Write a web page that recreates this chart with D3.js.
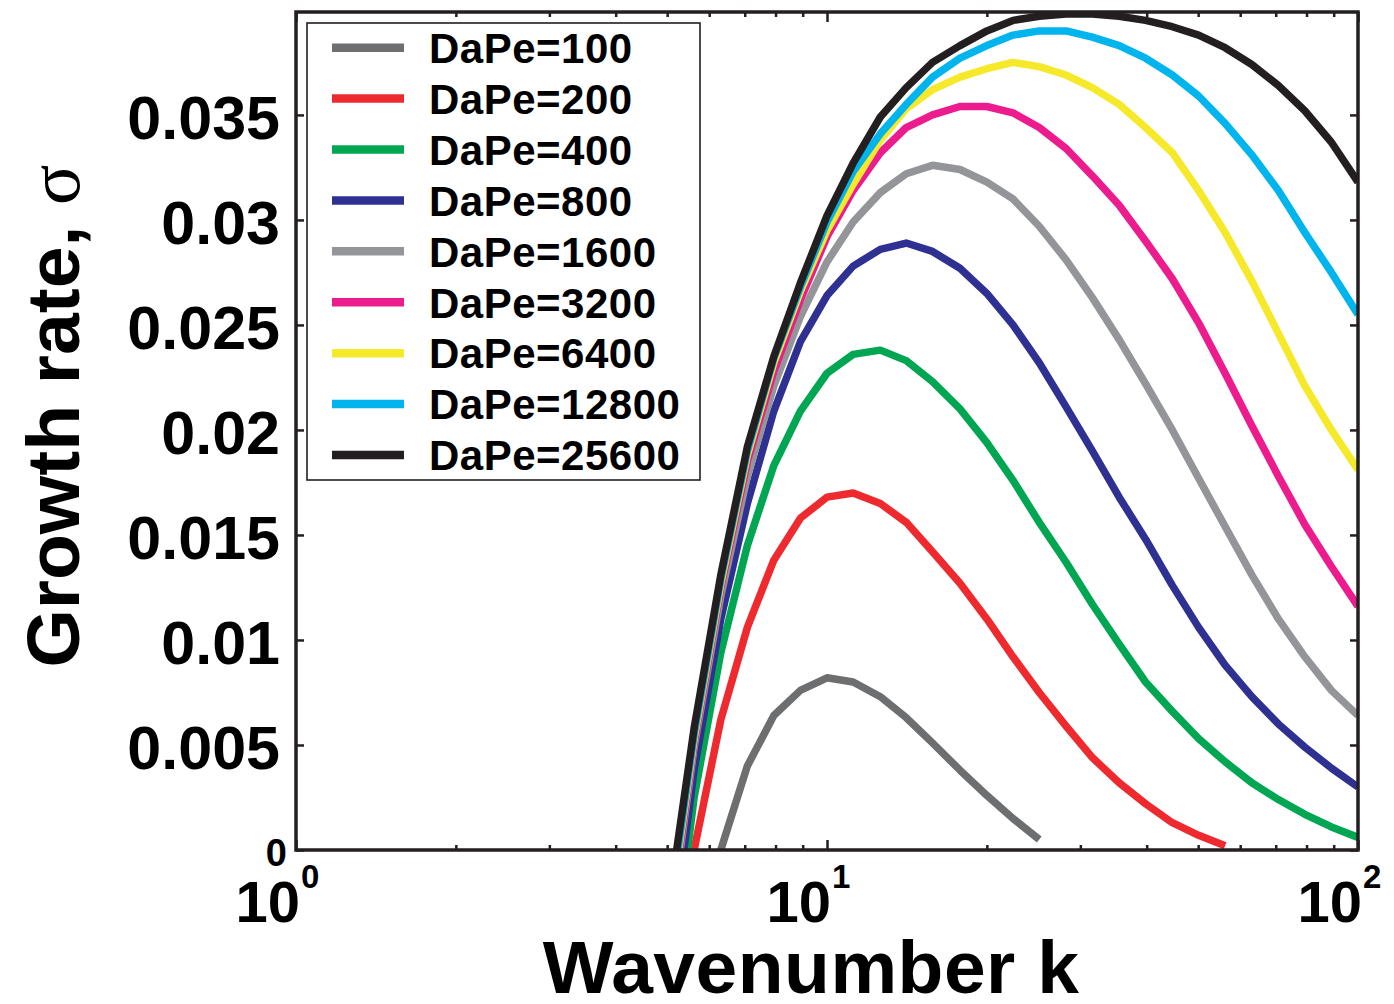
<!DOCTYPE html>
<html>
<head>
<meta charset="utf-8">
<script src="https://cdn.jsdelivr.net/npm/d3@7"></script>
<style>
  html, body { margin: 0; padding: 0; background: #ffffff; }
  svg { display: block; }
</style>
</head>
<body>
<svg id="chart" width="1394" height="1004"></svg>
<script>
// Wavenumbers at which the growth rate was evaluated
const wavenumbers = [5.01, 5.62, 6.31, 7.08, 7.94, 8.91, 10, 11.2, 12.6, 14.1, 15.8, 17.8, 20, 22.4,
                     25.1, 28.2, 31.6, 35.5, 39.8, 44.7, 50.1, 56.2, 63.1, 70.8, 79.4, 89.1, 100];

// Growth rate sigma(k) for each DaPe
const dape100   = [null, null, 0.0000, 0.0040, 0.0064, 0.0076, 0.0082, 0.0080, 0.0073, 0.0063, 0.0051, 0.0038, 0.0026, 0.0015,
                   0.0005, null, null, null, null, null, null, null, null, null, null, null, null];
const dape200   = [null, 0.0000, 0.0062, 0.0106, 0.0138, 0.0158, 0.0168, 0.0170, 0.0165, 0.0156, 0.0142, 0.0127, 0.0110, 0.0092,
                   0.0075, 0.0059, 0.0044, 0.0032, 0.0022, 0.0013, 0.0007, 0.0002, null, null, null, null, null];
const dape400   = [-0.0075, 0.0025, 0.0094, 0.0145, 0.0183, 0.0209, 0.0227, 0.0236, 0.0238, 0.0233, 0.0223, 0.0210, 0.0194, 0.0176,
                   0.0156, 0.0137, 0.0117, 0.0098, 0.0080, 0.0066, 0.0053, 0.0042, 0.0032, 0.0024, 0.0017, 0.0011, 0.0006];
const dape800   = [-0.0060, 0.0038, 0.0110, 0.0165, 0.0209, 0.0242, 0.0264, 0.0278, 0.0286, 0.0289, 0.0285, 0.0277, 0.0265, 0.0250,
                   0.0232, 0.0211, 0.0190, 0.0168, 0.0148, 0.0126, 0.0106, 0.0088, 0.0073, 0.0060, 0.0049, 0.0039, 0.0030];
const dape1600  = [-0.0045, 0.0049, 0.0121, 0.0178, 0.0221, 0.0254, 0.0280, 0.0299, 0.0313, 0.0322, 0.0326, 0.0324, 0.0318, 0.0310,
                   0.0297, 0.0281, 0.0263, 0.0243, 0.0222, 0.0200, 0.0177, 0.0154, 0.0131, 0.0110, 0.0092, 0.0076, 0.0064];
const dape3200  = [-0.0042, 0.0051, 0.0125, 0.0185, 0.0228, 0.0262, 0.0292, 0.0314, 0.0332, 0.0344, 0.0350, 0.0354, 0.0354, 0.0351,
                   0.0344, 0.0334, 0.0321, 0.0307, 0.0290, 0.0272, 0.0251, 0.0227, 0.0202, 0.0178, 0.0155, 0.0135, 0.0116];
const dape6400  = [-0.0038, 0.0053, 0.0127, 0.0188, 0.0232, 0.0266, 0.0295, 0.0317, 0.0338, 0.0353, 0.0362, 0.0368, 0.0372, 0.0375,
                   0.0373, 0.0369, 0.0363, 0.0355, 0.0344, 0.0332, 0.0314, 0.0294, 0.0271, 0.0246, 0.0221, 0.0200, 0.0181];
const dape12800 = [-0.0035, 0.0055, 0.0129, 0.0190, 0.0234, 0.0268, 0.0299, 0.0323, 0.0341, 0.0355, 0.0368, 0.0377, 0.0383, 0.0388,
                   0.0390, 0.0390, 0.0387, 0.0383, 0.0377, 0.0369, 0.0359, 0.0346, 0.0331, 0.0314, 0.0294, 0.0275, 0.0255];
const dape25600 = [-0.0030, 0.0058, 0.0131, 0.0192, 0.0235, 0.0270, 0.0302, 0.0327, 0.0349, 0.0363, 0.0375, 0.0383, 0.0390, 0.0395,
                   0.0397, 0.0398, 0.0398, 0.0397, 0.0395, 0.0392, 0.0388, 0.0382, 0.0374, 0.0364, 0.0352, 0.0337, 0.0318];

const seriesNames  = ["DaPe=100", "DaPe=200", "DaPe=400", "DaPe=800", "DaPe=1600",
                      "DaPe=3200", "DaPe=6400", "DaPe=12800", "DaPe=25600"];
const seriesValues = [dape100, dape200, dape400, dape800, dape1600, dape3200, dape6400, dape12800, dape25600];
const seriesColors = ["#6d6e70", "#ee2a2f", "#00a651", "#2e3192", "#939598",
                      "#ec1c8e", "#f5e92a", "#00b5ee", "#231f20"];

const yTickValues = [0, 0.005, 0.01, 0.015, 0.02, 0.025, 0.03, 0.035];
const yTickLabels = ["0", "0.005", "0.01", "0.015", "0.02", "0.025", "0.03", "0.035"];
const xMajorTicks = [1, 10, 100];
const xMajorExponents = ["0", "1", "2"];
const xMinorTicks = [2, 3, 4, 5, 6, 7, 8, 9, 20, 30, 40, 50, 60, 70, 80, 90];

const FONT = "'Liberation Sans', Arial, Helvetica, sans-serif";
const INK = "#231f20";

const svg = d3.select("#chart");
const plot = { left: 296, right: 1358, top: 12, bottom: 850 };

const x = d3.scaleLog().domain([1, 100]).range([plot.left, plot.right]);
const y = d3.scaleLinear().domain([0, 0.0399]).range([plot.bottom, plot.top]);

svg.append("defs").append("clipPath").attr("id", "plot-clip")
  .append("rect")
  .attr("x", plot.left).attr("y", plot.top)
  .attr("width", plot.right - plot.left).attr("height", plot.bottom - plot.top);

// Curves
const line = d3.line()
  .defined(d => d.s !== null)
  .x(d => x(d.k))
  .y(d => y(d.s));

const curves = svg.append("g").attr("clip-path", "url(#plot-clip)");
seriesValues.forEach((vals, i) => {
  const pts = wavenumbers.map((k, j) => ({ k: k, s: vals[j] }));
  curves.append("path")
    .datum(pts)
    .attr("d", line)
    .attr("fill", "none")
    .attr("stroke", seriesColors[i])
    .attr("stroke-width", 7.5)
    .attr("stroke-linejoin", "round");
});

// Axes: ticks point inward on all four sides
function styleAxis(g) {
  g.select(".domain").remove();
  g.selectAll(".tick line").attr("stroke", INK).attr("stroke-width", 2.5);
}

svg.append("g")
  .attr("transform", `translate(0,${plot.bottom})`)
  .call(d3.axisBottom(x).tickValues(xMinorTicks).tickSizeInner(-5).tickSizeOuter(0).tickFormat(""))
  .call(styleAxis);
svg.append("g")
  .attr("transform", `translate(0,${plot.bottom})`)
  .call(d3.axisBottom(x).tickValues(xMajorTicks).tickSizeInner(-10).tickSizeOuter(0).tickFormat(""))
  .call(styleAxis);
svg.append("g")
  .attr("transform", `translate(0,${plot.top})`)
  .call(d3.axisTop(x).tickValues(xMinorTicks).tickSizeInner(-5).tickSizeOuter(0).tickFormat(""))
  .call(styleAxis);
svg.append("g")
  .attr("transform", `translate(0,${plot.top})`)
  .call(d3.axisTop(x).tickValues(xMajorTicks).tickSizeInner(-10).tickSizeOuter(0).tickFormat(""))
  .call(styleAxis);

const yAxis = svg.append("g")
  .attr("transform", `translate(${plot.left},0)`)
  .call(d3.axisLeft(y).tickValues(yTickValues).tickSizeInner(-8).tickSizeOuter(0)
        .tickPadding(16).tickFormat((d, i) => yTickLabels[i]))
  .call(styleAxis);
yAxis.selectAll(".tick text")
  .attr("font-family", FONT)
  .attr("font-weight", "bold")
  .attr("font-size", 61)
  .attr("fill", "#000")
  .attr("dy", "0.39em");
yAxis.selectAll(".tick text").filter(d => d === 0)
  .attr("font-size", 38)
  .attr("x", -9)
  .attr("dy", 15);

svg.append("g")
  .attr("transform", `translate(${plot.right},0)`)
  .call(d3.axisRight(y).tickValues(yTickValues).tickSizeInner(-8).tickSizeOuter(0).tickFormat(""))
  .call(styleAxis);

// Power-of-ten labels on the x axis
const xLabels = svg.append("g").attr("font-family", FONT).attr("font-weight", "bold").attr("fill", "#000");
xMajorTicks.forEach((t, i) => {
  xLabels.append("text")
    .attr("x", x(t) + 4).attr("y", 922)
    .attr("text-anchor", "end")
    .attr("font-size", 58)
    .text("10");
  xLabels.append("text")
    .attr("x", x(t) + 5).attr("y", 888)
    .attr("text-anchor", "start")
    .attr("font-size", 33)
    .text(xMajorExponents[i]);
});

// Frame
svg.append("rect")
  .attr("x", plot.left).attr("y", plot.top)
  .attr("width", plot.right - plot.left).attr("height", plot.bottom - plot.top)
  .attr("fill", "none").attr("stroke", INK).attr("stroke-width", 3.5);

// Axis titles
svg.append("text")
  .attr("x", 811).attr("y", 993)
  .attr("text-anchor", "middle")
  .attr("font-family", FONT).attr("font-weight", "bold").attr("font-size", 75)
  .attr("letter-spacing", 0.5)
  .attr("fill", "#000")
  .text("Wavenumber k");

const yTitle = svg.append("text")
  .attr("transform", "translate(79,416) rotate(-90)")
  .attr("text-anchor", "middle")
  .attr("font-family", FONT).attr("font-weight", "bold").attr("font-size", 75)
  .attr("fill", "#000");
yTitle.append("tspan").text("Growth rate, ");
yTitle.append("tspan")
  .attr("font-family", "'Liberation Serif', 'DejaVu Serif', serif")
  .attr("font-weight", "normal")
  .text("σ");

// Legend
const legend = svg.append("g");
legend.append("rect")
  .attr("x", 307).attr("y", 23).attr("width", 393).attr("height", 457)
  .attr("fill", "#ffffff").attr("stroke", INK).attr("stroke-width", 1.6);
const rowY = d3.scaleLinear().domain([0, seriesNames.length - 1]).range([47.7, 455]);
seriesNames.forEach((name, i) => {
  legend.append("line")
    .attr("x1", 332).attr("x2", 404)
    .attr("y1", rowY(i)).attr("y2", rowY(i))
    .attr("stroke", seriesColors[i]).attr("stroke-width", 8.5);
  legend.append("text")
    .attr("x", 429).attr("y", rowY(i) + 15.3)
    .attr("font-family", FONT).attr("font-weight", "bold").attr("font-size", 42)
    .attr("letter-spacing", 0.5)
    .attr("fill", "#000")
    .text(name);
});
</script>
</body>
</html>
